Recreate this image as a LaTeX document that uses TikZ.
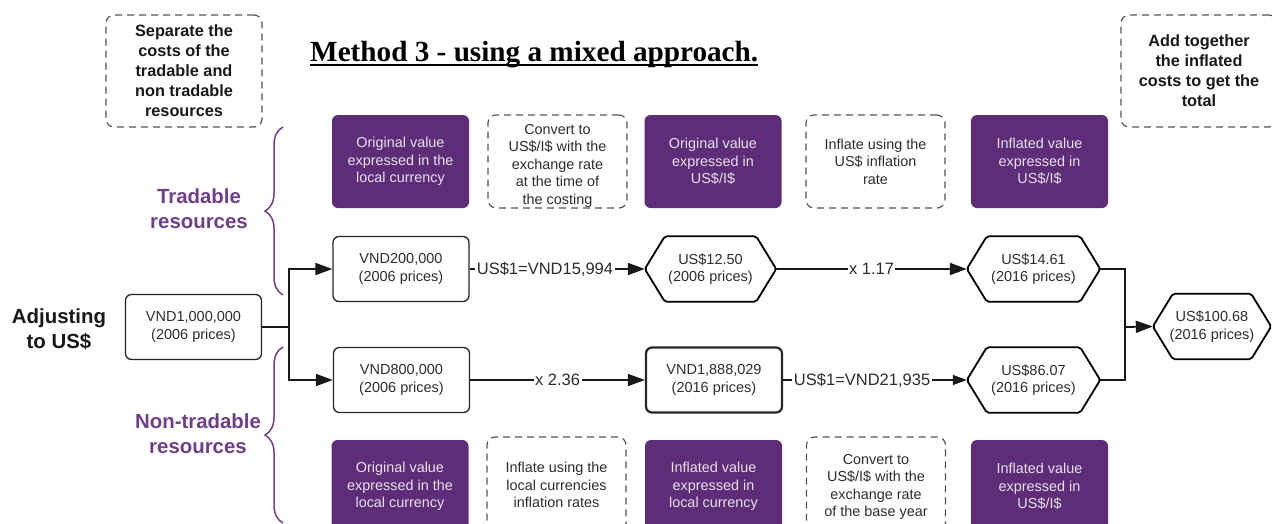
\documentclass[tikz,border=0pt]{standalone}
\usepackage{fontspec}
\setmainfont{Liberation Sans}
\newfontfamily\serifb{Liberation Serif}
\usetikzlibrary{arrows.meta,decorations.pathreplacing}
\definecolor{lpurple}{RGB}{94,45,120}
\definecolor{bracepurple}{RGB}{112,62,138}
\definecolor{lavtext}{RGB}{232,224,238}
\definecolor{dashgrey}{RGB}{85,85,85}
\definecolor{txt}{RGB}{45,45,45}
\tikzset{
  purplebox/.style={rectangle, rounded corners=6pt, fill=lpurple, draw=none, text=lavtext, minimum width=137pt, minimum height=93pt, align=center, font=\fontsize{14.4}{17.5}\selectfont, inner sep=0pt},
  dashbox/.style={rectangle, rounded corners=8pt, draw=dashgrey, line width=1.2pt, dash pattern=on 7pt off 5pt, text=txt, minimum width=139pt, minimum height=93pt, align=center, font=\fontsize{14.4}{17.5}\selectfont, inner sep=0pt},
  dashtext/.style={align=center, font=\fontsize{14.4}{17.5}\selectfont, inner sep=0pt, text=txt},
  valbox/.style={rectangle, rounded corners=6pt, draw=black!85, line width=1.3pt, minimum width=136pt, minimum height=65pt, align=center, font=\fontsize{14.5}{17.7}\selectfont, inner sep=0pt, text=txt},
  hexnode/.style={rectangle, draw=none, minimum height=65pt, align=center, font=\fontsize{14.5}{17.7}\selectfont, inner sep=0pt, text=txt},
  hexline/.style={draw=black, line width=1.8pt, rounded corners=2pt, line join=round},
  conn/.style={line width=1.8pt, draw=black!90},
  arr/.style={conn, -{Triangle[length=17pt,width=12pt]}},
  thinarr/.style={line width=1.3pt, draw=black!90, -{Triangle[length=14pt,width=10pt]}},
  lab/.style={fill=white, inner xsep=1.5pt, inner ysep=1pt, font=\fontsize{16.5}{19}\selectfont, text=txt},
  notebox/.style={dashbox, font=\bfseries\fontsize{16.3}{20}\selectfont, text=black!90, minimum width=156pt, minimum height=112pt},
  sidelabel/.style={font=\bfseries\fontsize{20.4}{25}\selectfont, align=center, text=bracepurple},
  bracedeco/.style={decorate, decoration={brace, amplitude=18pt}, draw=bracepurple, line width=1.5pt}
}
\begin{document}
\begin{tikzpicture}[x=1pt,y=-1pt]
\clip (0,0) rectangle (1272,523);
\fill[white] (0,0) rectangle (1272,523);

% title
\node[anchor=base west, inner sep=0pt, font=\serifb\bfseries\fontsize{29.2}{32}\selectfont] (title) at (310,61) {Method 3 - using a mixed approach.};
\draw[line width=1.5pt] ([yshift=-4pt]title.base west) -- ([yshift=-4pt]title.base east);

% notes
\node[notebox] (sep) at (184,71) {Separate the\\costs of the\\tradable and\\non tradable\\resources};
\node[notebox] (add) at (1199,71) {Add together\\the inflated\\costs to get the\\total};

% top row
\node[purplebox] (tp1) at (400.5,161.5) {Original value\\expressed in the\\local currency};
\node[dashbox] (td1) at (557.5,161.5) {};
\node[dashtext] (td1t) at ([yshift=-4pt]td1.center) {Convert to\\US\$/I\$ with the\\exchange rate\\at the time of\\the costing};
\node[purplebox] (tp2) at (713,161.5) {Original value\\expressed in\\US\$/I\$};
\node[dashbox] (td2) at (875.5,161.5) {Inflate using the\\US\$ inflation\\rate};
\node[purplebox] (tp3) at (1039.5,161.5) {Inflated value\\expressed in\\US\$/I\$};

% bottom row
\node[purplebox] (bp1) at (400,486.5) {Original value\\expressed in the\\local currency};
\node[dashbox, minimum height=96pt] (bd1) at (556.5,485) {Inflate using the\\local currencies\\inflation rates};
\node[purplebox] (bp2) at (713.5,486.5) {Inflated value\\expressed in\\local currency};
\node[dashbox, minimum height=96pt] (bd2) at (876,485) {};
\node[dashtext] (bd2t) at ([yshift=-2pt]bd2.center) {Convert to\\US\$/I\$ with the\\exchange rate\\of the base year};
\node[purplebox] (bp3) at (1039.5,486.5) {Inflated value\\expressed in\\US\$/I\$};

% side labels
\node[sidelabel] (trad) at (199,209) {Tradable\\resources};
\node[sidelabel] (nontrad) at (198,434) {Non-tradable\\resources};
\node[font=\bfseries\fontsize{20.4}{25}\selectfont, align=center, text=black!90] (adj) at (59,329) {Adjusting\\to US\$};
\draw[bracedeco] (283,295) -- (283,127);
\draw[bracedeco] (283,523) -- (283,347);

% value nodes
\node[valbox] (v1m) at (193.5,327) {VND1,000,000\\(2006 prices)};
\node[valbox] (v200) at (401,269) {VND200,000\\(2006 prices)};
\node[valbox] (v800) at (401.5,380) {VND800,000\\(2006 prices)};
\node[valbox, line width=2.2pt] (v1888) at (714,380) {VND1,888,029\\(2016 prices)};
\node[hexnode, minimum width=131pt] (h1250) at (710.5,269) {US\$12.50\\(2006 prices)};
\node[hexnode, minimum width=133pt] (h1461) at (1033.5,269) {US\$14.61\\(2016 prices)};
\node[hexnode, minimum width=133pt] (h8607) at (1033.5,380) {US\$86.07\\(2016 prices)};
\node[hexnode, minimum width=118pt] (h10068) at (1212,326.5) {US\$100.68\\(2016 prices)};
\foreach \n in {h1250,h1461,h8607,h10068}
  \draw[hexline] (\n.west) -- ([xshift=20pt]\n.north west) -- ([xshift=-20pt]\n.north east) -- (\n.east) -- ([xshift=-20pt]\n.south east) -- ([xshift=20pt]\n.south west) -- cycle;

% connectors
\coordinate (j1) at (289,327);
\draw[conn] (v1m.east) -- (j1);
\draw[arr] (j1) |- (v200.west);
\draw[arr] (j1) |- (v800.west);
\draw[arr] (v200.east) -- node[lab,pos=0.43]{US\$1=VND15,994} (h1250.west);
\draw[arr] (h1250.east) -- node[lab]{x 1.17} (h1461.west);
\draw[arr] (v800.east) -- node[lab]{x 2.36} (v1888.west);
\draw[thinarr] (v1888.east) -- node[lab,pos=0.43]{US\$1=VND21,935} (h8607.west);
\coordinate (j2) at (1125,327);
\draw[conn] (h1461.east) -| (j2);
\draw[conn] (h8607.east) -| (j2);
\draw[arr] (j2) -- (h10068.west);
\end{tikzpicture}
\end{document}
